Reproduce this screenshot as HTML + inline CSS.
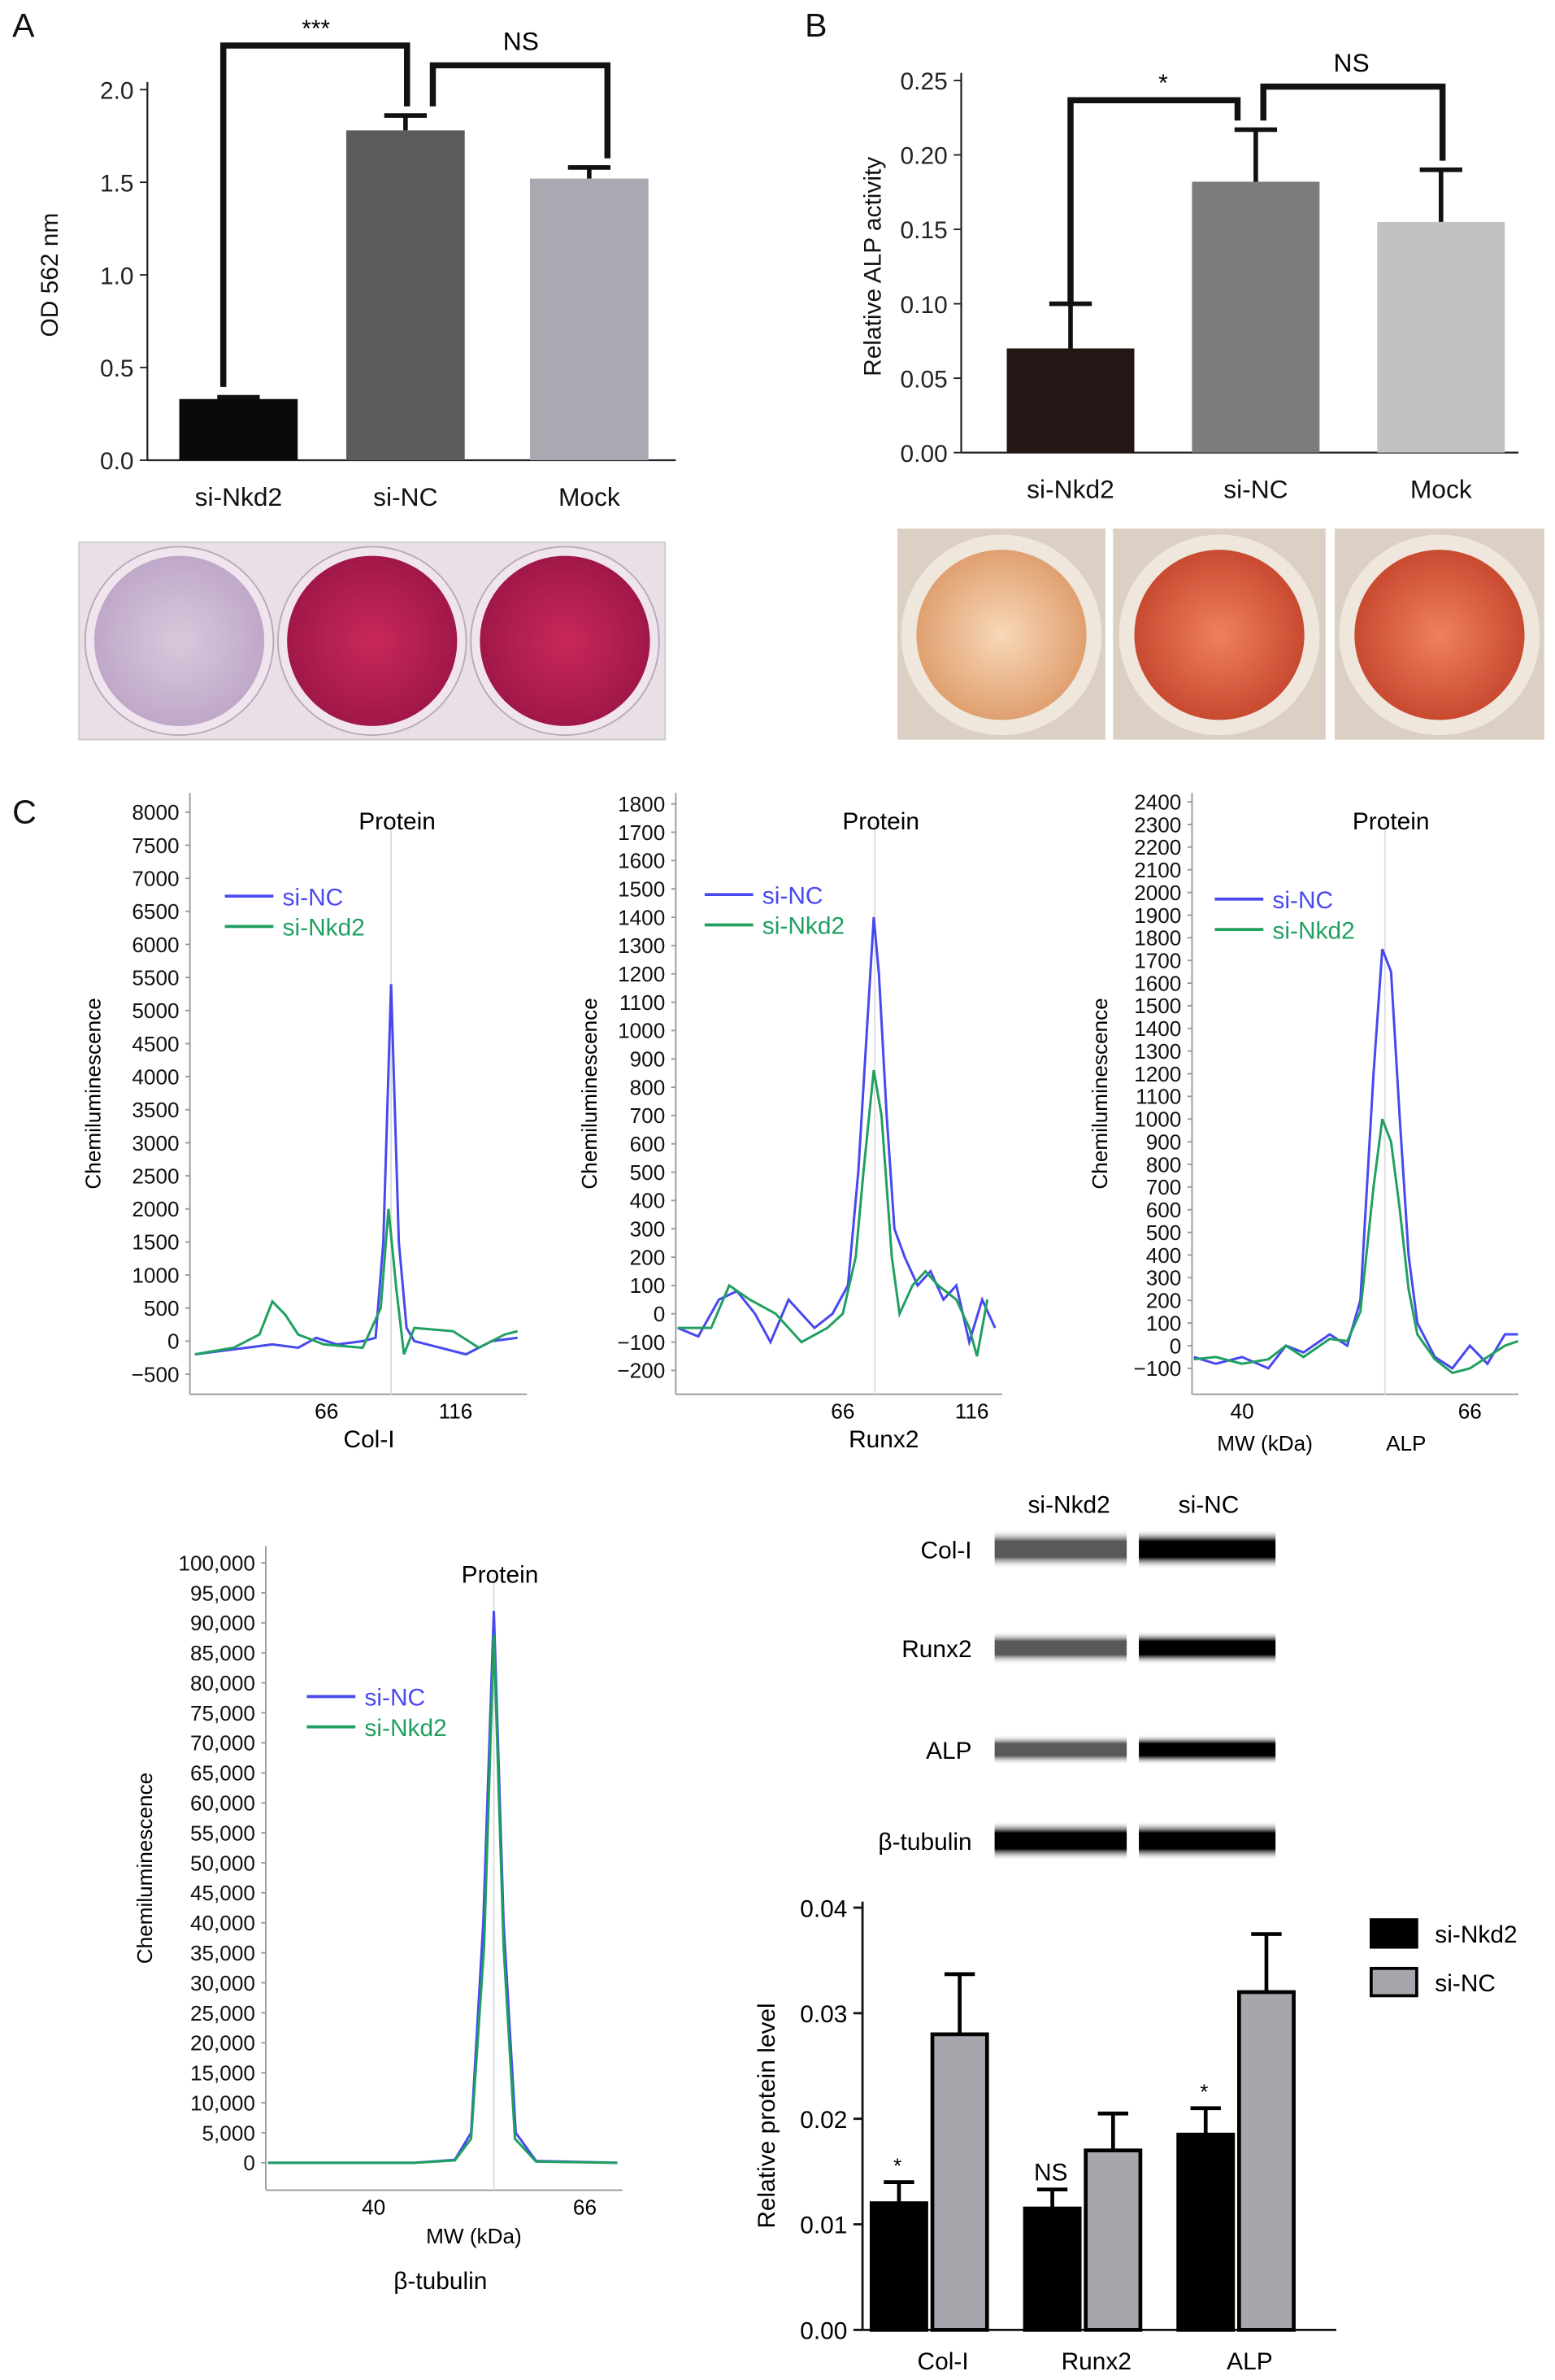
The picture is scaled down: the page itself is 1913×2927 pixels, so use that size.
<!DOCTYPE html>
<html><head><meta charset="utf-8">
<style>
html,body{margin:0;padding:0;background:#fff;}
svg{display:block;font-family:"Liberation Sans",sans-serif;}
</style></head>
<body>
<svg id="fig" width="1913" height="2927" viewBox="0 0 1024 1567" xmlns="http://www.w3.org/2000/svg">
<defs>
<radialGradient id="gA1"><stop offset="0" stop-color="#d8c8dc"/><stop offset="1" stop-color="#bfa8c8"/></radialGradient>
<radialGradient id="gA2"><stop offset="0" stop-color="#c8285a"/><stop offset="1" stop-color="#a01848"/></radialGradient>
<radialGradient id="gB1"><stop offset="0" stop-color="#f8d8b8"/><stop offset="1" stop-color="#e0a070"/></radialGradient>
<radialGradient id="gB2"><stop offset="0" stop-color="#f08060"/><stop offset="1" stop-color="#c84a30"/></radialGradient>
<linearGradient id="band" x1="0" y1="0" x2="0" y2="1"><stop offset="0" stop-color="#fff" stop-opacity="0"/><stop offset="0.3" stop-color="#000"/><stop offset="0.7" stop-color="#000"/><stop offset="1" stop-color="#fff" stop-opacity="0"/></linearGradient>
</defs>
<g id="root"></g>
</svg>
<script>
// ---- Panel A data
const aCats=["si-Nkd2","si-NC","Mock"];
const aVals=[0.33,1.78,1.52];
const aErr=[0.34,1.86,1.58];
const aTicks=[0,0.5,1.0,1.5,2.0];
// ---- Panel B data
const bCats=["si-Nkd2","si-NC","Mock"];
const bVals=[0.07,0.182,0.155];
const bErr=[0.10,0.217,0.19];
const bTicks=[0,0.05,0.10,0.15,0.20,0.25];
// ---- Chemiluminescence data (MW kDa, signal)
const colNCx=[15,25,35,45,55,62,70,80,85,88,91,94,97,100,110,120,130,140];
const colNCy=[-200,-150,-100,-50,-100,50,-50,0,50,1500,5400,1500,200,0,-100,-200,0,50];
const colKDx=[15,30,40,45,50,55,65,80,87,90,93,96,100,115,125,135,140];
const colKDy=[-200,-100,100,600,400,100,-50,-100,500,2000,800,-200,200,150,-100,100,150];
const runNCx=[2,10,18,25,32,38,45,55,62,68,72,76,78,80,83,86,90,95,100,105,110,115,120,125];
const runNCy=[-50,-80,50,80,0,-100,50,-50,0,100,500,1100,1400,1200,700,300,200,100,150,50,100,-100,50,-50];
const runKDx=[2,15,22,30,40,50,60,66,71,74,78,81,85,88,93,98,103,110,115,118,122];
const runKDy=[-50,-50,100,50,0,-100,-50,0,200,500,860,700,200,0,100,150,100,50,-50,-150,50];
const alpNCx=[34.5,37,40,43,45,47,50,52,53.5,55,56,57,58,59,60,62,64,66,68,70,71.5];
const alpNCy=[-50,-80,-50,-100,0,-30,50,0,200,1200,1750,1650,1000,400,100,-50,-100,0,-80,50,50];
const alpKDx=[34.5,37,40,43,45,47,50,52,53.5,55,56,57,58,59,60,62,64,66,68,70,71.5];
const alpKDy=[-60,-50,-80,-60,0,-50,30,20,150,700,1000,900,600,250,50,-60,-120,-100,-50,0,20];
const tubNCx=[27,45,50,52,53.5,54.8,56,57.5,60,70];
const tubNCy=[0,0,500,5000,40000,92000,40000,5000,300,0];
const tubKDx=[27,45,50,52,53.6,54.8,56,57.4,60,70];
const tubKDy=[0,0,400,4000,36000,88000,36000,4000,200,0];
// ---- Relative protein level
const pCats=["Col-I","Runx2","ALP"];
const pKD=[0.012,0.0115,0.0185];
const pKDerr=[0.014,0.0133,0.021];
const pNC=[0.028,0.017,0.032];
const pNCerr=[0.0337,0.0205,0.0375];
const pSig=["*","NS","*"];
const pTicks=[0,0.01,0.02,0.03,0.04];

const NS="http://www.w3.org/2000/svg";
const root=document.getElementById('root');
function el(tag,attrs,parent,text){const e=document.createElementNS(NS,tag);for(const k in attrs)e.setAttribute(k,attrs[k]);if(text!==undefined)e.textContent=text;(parent||root).appendChild(e);return e;}

// panel letters
[["A",8,24],["B",530,24],["C",8,542]].forEach(l=>{
 const t=el('text',{x:l[1],y:l[2],'font-size':22,fill:'#111'},root,l[0]);
 
 
});

function barPanel(o){
 const g=el('g',{});
 
 
 const y=v=>o.y0-(v-o.vmin)/(o.vmax-o.vmin)*(o.y0-o.y1);
 el('line',{x1:o.ax,y1:o.y1-5,x2:o.ax,y2:o.y0,stroke:'#222','stroke-width':1.2},g);
 el('line',{x1:o.ax,y1:o.y0,x2:o.xend,y2:o.y0,stroke:'#222','stroke-width':1.2},g);
 o.ticks.forEach(t=>{
  el('line',{x1:o.ax-5,y1:y(t),x2:o.ax,y2:y(t),stroke:'#222'},g);
  const tx=el('text',{x:o.ax-9,y:y(t)+6,'font-size':o.fs,'text-anchor':'end',fill:'#222'},g,o.fmt(t));
  
  
 });
 o.vals.forEach((v,i)=>{
  const x=o.bx[i],w=o.bw;
  const r=el('rect',{x:x,y:y(v),width:w,height:o.y0-y(v),fill:o.cols[i]},g);
  
  
  const cx=x+w/2;
  el('line',{x1:cx,y1:y(v),x2:cx,y2:y(o.err[i]),stroke:o.errc,'stroke-width':3},g);
  el('line',{x1:cx-14,y1:y(o.err[i]),x2:cx+14,y2:y(o.err[i]),stroke:o.errc,'stroke-width':3},g);
  const lt=el('text',{x:cx,y:o.y0+30,'font-size':17,'text-anchor':'middle',fill:'#111'},g,o.cats[i]);
  
  
 });
 const yl=el('text',{transform:`translate(${o.ylx},${(o.y0+o.y1)/2}) rotate(-90)`,'font-size':16,'text-anchor':'middle',fill:'#111'},g,o.ylabel);
 
 
 return {g,y};
}

// Panel A
const A=barPanel({name:'chart-a',ax:97,y0:303,y1:59,vmin:0,vmax:2,xend:445,ticks:aTicks,fmt:t=>t.toFixed(1),fs:16,vals:aVals,err:aErr,cats:aCats,bx:[118,228,349],bw:78,cols:['#0a0a0a','#5c5c5c','#a9a9b2'],errc:'#111',ylx:38,ylabel:'OD 562 nm'});
el('path',{d:`M147 ${A.y(aVals[0])-8} V30 H268 V${A.y(aErr[1])-6}`,fill:'none',stroke:'#111','stroke-width':4},A.g);
el('text',{x:208,y:24,'font-size':16,'text-anchor':'middle'},A.g,'***');
el('path',{d:`M285 ${A.y(aErr[1])-6} V43 H400 V${A.y(aErr[2])-6}`,fill:'none',stroke:'#111','stroke-width':4},A.g);
el('text',{x:343,y:33,'font-size':17,'text-anchor':'middle'},A.g,'NS');

// Panel B
const B=barPanel({name:'chart-b',ax:633,y0:298,y1:53,vmin:0,vmax:0.25,xend:1000,ticks:bTicks,fmt:t=>t.toFixed(2),fs:16,vals:bVals,err:bErr,cats:bCats,bx:[663,785,907],bw:84,cols:['#251515','#7c7c7c','#c2c2c2'],errc:'#111',ylx:580,ylabel:'Relative ALP activity'});
el('path',{d:`M705 ${B.y(bErr[0])} V66 H815 V${B.y(bErr[1])-6}`,fill:'none',stroke:'#111','stroke-width':4},B.g);
el('text',{x:766,y:60,'font-size':16,'text-anchor':'middle'},B.g,'*');
el('path',{d:`M832 ${B.y(bErr[1])-6} V57 H950 V${B.y(bErr[2])-6}`,fill:'none',stroke:'#111','stroke-width':4},B.g);
el('text',{x:890,y:47,'font-size':17,'text-anchor':'middle'},B.g,'NS');

// Photo A
const pa=el('g',{});


el('rect',{x:52,y:357,width:386,height:130,fill:'#e8e0e6',stroke:'#ccc'},pa);
[[118,'url(#gA1)'],[245,'url(#gA2)'],[372,'url(#gA2)']].forEach(c=>{
 el('circle',{cx:c[0],cy:422,r:62,fill:'#f0e4ee',stroke:'#b8a8b8'},pa);
 el('circle',{cx:c[0],cy:422,r:56,fill:c[1]},pa);
});
// Photo B
const pb=el('g',{});


[[591,728,'url(#gB1)'],[733,873,'url(#gB2)'],[879,1017,'url(#gB2)']].forEach(c=>{
 el('rect',{x:c[0],y:348,width:c[1]-c[0],height:139,fill:'#dcd0c4'},pb);
 el('circle',{cx:(c[0]+c[1])/2,cy:418,r:66,fill:'#efe6dc'},pb);
 el('circle',{cx:(c[0]+c[1])/2,cy:418,r:56,fill:c[2]},pb);
});

// electropherograms
function electro(o){
 const g=el('g',{});
 
 
 const y=v=>o.y0+(v-o.v0)*o.ky;
 const x=k=>o.xa+(k-o.ka)*o.kx;
 el('line',{x1:o.ax,y1:o.ytop,x2:o.ax,y2:o.ybot,stroke:'#999'},g);
 el('line',{x1:o.ax,y1:o.ybot,x2:o.xr,y2:o.ybot,stroke:'#999'},g);
 el('line',{x1:x(o.peak),y1:o.ytop+20,x2:x(o.peak),y2:o.ybot,stroke:'#ddd'},g);
 o.ticks.forEach(t=>{
  el('line',{x1:o.ax-3,y1:y(t),x2:o.ax,y2:y(t),stroke:'#999'},g);
  const tx=el('text',{x:o.ax-7,y:y(t)+5,'font-size':14,'text-anchor':'end',fill:'#111'},g,o.tfmt(t));
  
  
 });
 o.xt.forEach(t=>{el('text',{x:x(t),y:o.ybot+16,'font-size':14,'text-anchor':'middle'},g,String(t));});
 const yl=el('text',{transform:`translate(${o.ylx},${(o.ytop+o.ybot)/2}) rotate(-90)`,'font-size':14,'text-anchor':'middle'},g,'Chemiluminescence');
 
 
 el('text',{x:x(o.peak)+4,y:o.ytop+24,'font-size':16,'text-anchor':'middle'},g,'Protein');
 o.extra.forEach(e=>el('text',{x:e[1],y:e[2],'font-size':e[3],'text-anchor':'middle'},g,e[0]));
 [[o.ncx,o.ncy,'#4848f0','si-NC',0],[o.kdx,o.kdy,'#20a060','si-Nkd2',20]].forEach(s=>{
  const p=el('polyline',{points:s[0].map((k,i)=>x(k)+','+y(s[1][i])).join(' '),fill:'none',stroke:s[2],'stroke-width':1.6},g);
  
  
  el('line',{x1:o.lx,y1:o.ly+s[4],x2:o.lx+32,y2:o.ly+s[4],stroke:s[2],'stroke-width':2},g);
  const lt=el('text',{x:o.lx+38,y:o.ly+s[4]+6,'font-size':16,fill:s[2]},g,s[3]);
  
  
 });
}
const rng=(a,b,s)=>{const r=[];for(let v=a;v<=b+1e-9;v+=s)r.push(v);return r;};
const minus=t=>t<0?'\u2212'+(-t):String(t);
electro({name:'col-i-electropherogram',ax:125,ytop:522,ybot:918,xr:347,y0:883,v0:0,ky:-0.04353,xa:215,ka:66,kx:1.7,peak:91,ticks:rng(-500,8000,500),tfmt:minus,xt:[66,116],ylx:66,lx:148,ly:590,extra:[['Col-I',243,953,16]],ncx:colNCx,ncy:colNCy,kdx:colKDx,kdy:colKDy});
electro({name:'runx2-electropherogram',ax:445,ytop:522,ybot:918,xr:660,y0:865,v0:0,ky:-0.1865,xa:555,ka:66,kx:1.7,peak:78.4,ticks:rng(-200,1800,100),tfmt:minus,xt:[66,116],ylx:393,lx:464,ly:589,extra:[['Runx2',582,953,16]],ncx:runNCx,ncy:runNCy,kdx:runKDx,kdy:runKDy});
electro({name:'alp-electropherogram',ax:785,ytop:522,ybot:918,xr:1000,y0:886,v0:0,ky:-0.1492,xa:818,ka:40,kx:5.77,peak:56.3,ticks:rng(-100,2400,100),tfmt:minus,xt:[40,66],ylx:729,lx:800,ly:592,extra:[['MW (kDa)',833,955,14],['ALP',926,955,14]],ncx:alpNCx,ncy:alpNCy,kdx:alpKDx,kdy:alpKDy});
electro({name:'beta-tubulin-electropherogram',ax:175,ytop:1018,ybot:1442,xr:410,y0:1424,v0:0,ky:-0.00395,xa:246,ka:40,kx:5.35,peak:54.8,ticks:rng(0,100000,5000),tfmt:t=>t.toLocaleString('en-US'),xt:[40,66],ylx:100,lx:202,ly:1117,extra:[['MW (kDa)',312,1477,14],['\u03b2-tubulin',290,1507,16]],ncx:tubNCx,ncy:tubNCy,kdx:tubKDx,kdy:tubKDy});

// western blot image
const wb=el('g',{});


el('text',{x:704,y:996,'font-size':16,'text-anchor':'middle'},wb,'si-Nkd2');
el('text',{x:796,y:996,'font-size':16,'text-anchor':'middle'},wb,'si-NC');
[['Col-I',1020,640,'#555','#000',26],['Runx2',1085,640,'#666','#000',22],['ALP',1152,640,'#777','#000',20],['\u03b2-tubulin',1212,640,'#000','#000',26]].forEach(b=>{
 el('text',{x:b[2],y:b[1]+6,'font-size':16,'text-anchor':'end'},wb,b[0]);
 el('rect',{x:655,y:b[1]-b[5]/2,width:87,height:b[5],fill:'url(#band)',opacity:b[3]=='#000'?1:0.65},wb);
 el('rect',{x:750,y:b[1]-b[5]/2,width:90,height:b[5],fill:'url(#band)'},wb);
});

// relative protein level
const pg=el('g',{});


const py=v=>1534-v/0.04*278;
el('line',{x1:568,y1:1252,x2:568,y2:1534,stroke:'#111','stroke-width':1.5},pg);
el('line',{x1:568,y1:1534,x2:880,y2:1534,stroke:'#111','stroke-width':1.5},pg);
pTicks.forEach(t=>{
 el('line',{x1:562,y1:py(t),x2:568,y2:py(t),stroke:'#111','stroke-width':1.5},pg);
 const tx=el('text',{x:558,y:py(t)+6,'font-size':16,'text-anchor':'end'},pg,t.toFixed(2));
 
 
});
const gx=[611,712,813];
pCats.forEach((c,i)=>{
 const bw=36;
 [[pKD[i],pKDerr[i],gx[i]-bw/2-1,'#000'],[pNC[i],pNCerr[i],gx[i]+bw/2+3,'#a6a6ad']].forEach((b,j)=>{
  const cx=b[2];
  el('line',{x1:cx,y1:py(b[0]),x2:cx,y2:py(b[1]),stroke:'#000','stroke-width':2.5},pg);
  el('line',{x1:cx-10,y1:py(b[1]),x2:cx+10,y2:py(b[1]),stroke:'#000','stroke-width':2.5},pg);
  const r=el('rect',{x:cx-bw/2,y:py(b[0]),width:bw,height:1534-py(b[0]),fill:b[3],stroke:'#000','stroke-width':2.5},pg);
  
  
 });
 el('text',{x:gx[i]-20,y:py(pKDerr[i])-6,'font-size':pSig[i]=='NS'?16:14,'text-anchor':'middle'},pg,pSig[i]);
 const lt=el('text',{x:gx[i]+10,y:1560,'font-size':16,'text-anchor':'middle'},pg,c);
 
 
});
const pyl=el('text',{transform:'translate(510,1393) rotate(-90)','font-size':16,'text-anchor':'middle'},pg,'Relative protein level');


[['si-Nkd2',1273,'#000'],['si-NC',1305,'#a6a6ad']].forEach(l=>{
 el('rect',{x:903,y:l[1]-9,width:30,height:18,fill:l[2],stroke:'#000','stroke-width':2},pg);
 const lt=el('text',{x:945,y:l[1]+6,'font-size':16},pg,l[0]);
 
 
});
</script>
</body></html>
